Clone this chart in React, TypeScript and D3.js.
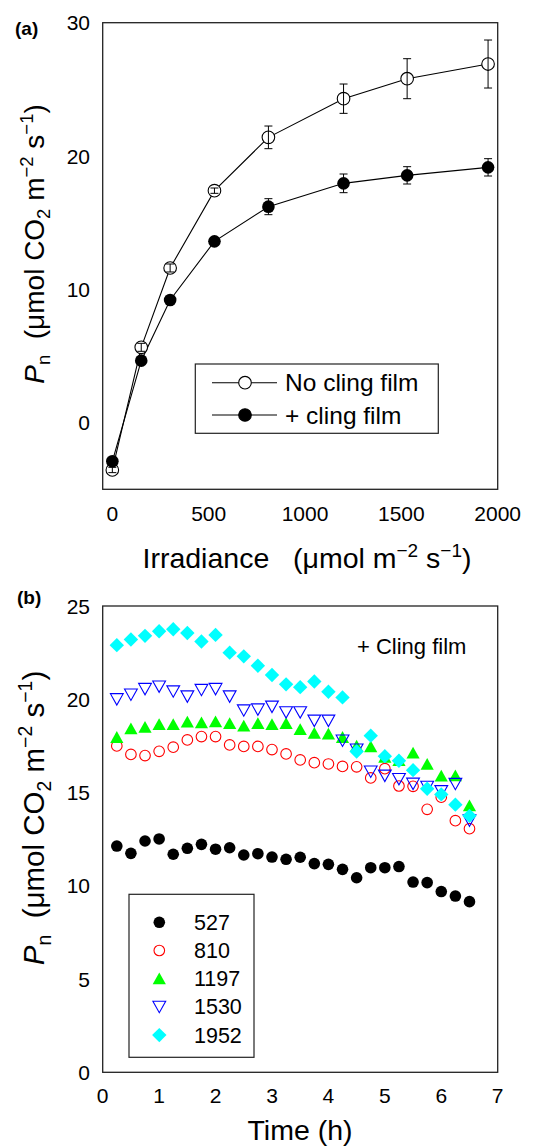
import React from 'react';
import * as d3 from 'd3';

// ---------- Panel (a) data ----------
const irradiance = [0, 150, 300, 530, 810, 1200, 1530, 1950];
const noFilm = [-3.55, 5.65, 11.6, 17.4, 21.4, 24.3, 25.8, 26.9];
const noFilmErr = [0.2, 0.3, 0.3, 0.2, 0.85, 1.1, 1.5, 1.8];
const withFilm = [-2.9, 4.65, 9.2, 13.6, 16.2, 17.95, 18.55, 19.15];
const withFilmErr = [0.2, 0.2, 0.2, 0.2, 0.6, 0.7, 0.65, 0.65];
const aXTicks = [0, 500, 1000, 1500, 2000];
const aYTicks = [0, 10, 20, 30];
const aLegend = ['No cling film', '+ cling film'];

// ---------- Panel (b) data ----------
const time = [0.25, 0.5, 0.75, 1.0, 1.25, 1.5, 1.75, 2.0, 2.25, 2.5, 2.75, 3.0, 3.25,
  3.5, 3.75, 4.0, 4.25, 4.5, 4.75, 5.0, 5.25, 5.5, 5.75, 6.0, 6.25, 6.5];
const s527 = [12.13, 11.74, 12.4, 12.51, 11.69, 12.01, 12.22, 11.96, 12.04, 11.65, 11.72, 11.54, 11.42,
  11.53, 11.19, 11.15, 10.88, 10.43, 10.97, 10.97, 11.03, 10.2, 10.17, 9.69, 9.45, 9.15];
const s810 = [17.5, 17.04, 16.98, 17.21, 17.43, 17.82, 18.0, 18.0, 17.55, 17.47, 17.47, 17.3, 17.07,
  16.75, 16.6, 16.53, 16.4, 16.38, 15.78, 16.28, 15.35, 15.33, 14.1, 14.75, 13.49, 13.06];
const s1197 = [17.96, 18.42, 18.5, 18.65, 18.65, 18.78, 18.74, 18.8, 18.7, 18.57, 18.7, 18.65, 18.7,
  18.38, 18.18, 18.14, 17.96, 17.5, 17.46, 16.9, 16.72, 17.12, 16.52, 15.89, 15.9, 14.3];
const s1530 = [20.0, 20.25, 20.55, 20.68, 20.42, 20.15, 20.5, 20.55, 20.15, 19.4, 19.45, 19.6, 19.3,
  19.3, 18.85, 18.85, 17.78, 17.3, 16.12, 15.9, 15.72, 15.47, 15.3, 15.07, 15.46, 13.5];
const s1952 = [22.9, 23.2, 23.4, 23.65, 23.75, 23.55, 23.1, 23.45, 22.5, 22.3, 21.8, 21.3, 20.8,
  20.65, 20.95, 20.4, 20.1, 17.2, 18.05, 16.95, 16.7, 16.2, 15.2, 14.9, 14.35, 13.75];
const bLabels = ['527', '810', '1197', '1530', '1952'];
const bXTicks = [0, 1, 2, 3, 4, 5, 6, 7];
const bYTicks = [0, 5, 10, 15, 20, 25];

const FONT = "'Liberation Sans', Arial, Helvetica, sans-serif";

type MarkerKind = 'dot' | 'ring' | 'tri' | 'itri' | 'diamond';
const markerPath = (k: MarkerKind): string => {
  if (k === 'tri') return 'M0,-6.2L6.6,5.6L-6.6,5.6Z';
  if (k === 'itri') return 'M-6.4,-5.6L6.4,-5.6L0,5.8Z';
  if (k === 'diamond') return 'M0,-7.2L7.2,0L0,7.2L-7.2,0Z';
  return '';
};

const Marker = ({ kind, x, y, color }: { kind: MarkerKind; x: number; y: number; color: string }) => {
  if (kind === 'dot') return <circle cx={x} cy={y} r={5.8} fill={color} />;
  if (kind === 'ring') return <circle cx={x} cy={y} r={5.3} fill="none" stroke={color} strokeWidth={1.1} />;
  const open = kind === 'itri';
  return (
    <path d={markerPath(kind)} transform={`translate(${x},${y})`}
      fill={open ? 'none' : color} stroke={open ? color : 'none'} strokeWidth={1.1} />
  );
};

export default function App() {
  // Panel (a) scales
  const xA = d3.scaleLinear().domain([-50, 2000]).range([102.7, 497.7]);
  const yA = d3.scaleLinear().domain([-5, 30]).range([489.3, 22.7]);
  // Panel (b) scales
  const xB = d3.scaleLinear().domain([0, 7]).range([102.7, 497.7]);
  const yB = d3.scaleLinear().domain([0, 25]).range([1072.3, 606]);

  const pathNo = d3.line<number>().x((_, i) => xA(irradiance[i])).y((d) => yA(d))(noFilm) || '';
  const pathWith = d3.line<number>().x((_, i) => xA(irradiance[i])).y((d) => yA(d))(withFilm) || '';

  const bSeries: { vals: number[]; kind: MarkerKind; color: string }[] = [
    { vals: s527, kind: 'dot', color: '#000000' },
    { vals: s810, kind: 'ring', color: '#ff0000' },
    { vals: s1197, kind: 'tri', color: '#00ff00' },
    { vals: s1530, kind: 'itri', color: '#0000ff' },
    { vals: s1952, kind: 'diamond', color: '#00ffff' },
  ];

  const errBar = (x: number, v: number, e: number, key: string) => (
    <g key={key} stroke="#000" strokeWidth={1}>
      <line x1={x} x2={x} y1={yA(v - e)} y2={yA(v + e)} />
      <line x1={x - 4} x2={x + 4} y1={yA(v - e)} y2={yA(v - e)} />
      <line x1={x - 4} x2={x + 4} y1={yA(v + e)} y2={yA(v + e)} />
    </g>
  );

  const yTitle = (cx: number, cy: number, fs: number) => {
    const sub = fs * 0.66;
    const dn = fs * 0.22;
    const up = fs * 0.4;
    return (
      <text transform={`translate(${cx},${cy}) rotate(-90)`} textAnchor="middle" fontSize={fs} fontFamily={FONT}>
        <tspan fontStyle="italic">P</tspan>
        <tspan fontSize={sub} dy={dn}>n</tspan>
        <tspan dy={-dn}>{'\u00a0\u00a0(\u03bcmol CO'}</tspan>
        <tspan fontSize={sub} dy={dn}>2</tspan>
        <tspan dy={-dn}>{'\u00a0m'}</tspan>
        <tspan fontSize={sub} dy={-up}>{'\u22122'}</tspan>
        <tspan dy={up}>{'\u00a0s'}</tspan>
        <tspan fontSize={sub} dy={-up}>{'\u22121'}</tspan>
        <tspan dy={up}>)</tspan>
      </text>
    );
  };

  return (
    <svg width={539} height={1148} style={{ position: 'absolute', left: 0, top: 0, background: '#fff' }}
      fontFamily={FONT}>
      <rect x={0} y={0} width={539} height={1148} fill="#fff" />
      {/* ================= Panel (a) ================= */}
      <text x={15} y={35} fontSize={19} fontWeight="bold">(a)</text>
      <rect x={102.7} y={22.7} width={395} height={466.6} fill="none" stroke="#222" strokeWidth={1.3} />
      {aYTicks.map((t) => (
        <text key={'ay' + t} x={90} y={yA(t) + 7.5} textAnchor="end" fontSize={21}>{t}</text>
      ))}
      {aXTicks.map((t) => (
        <text key={'ax' + t} x={xA(t)} y={521} textAnchor="middle" fontSize={21}>{t}</text>
      ))}
      <text x={307} y={568} textAnchor="middle" fontSize={28.5}>
        <tspan>{'Irradiance\u00a0\u00a0\u00a0(\u03bcmol m'}</tspan>
        <tspan fontSize={19} dy={-11.5}>{'\u22122'}</tspan>
        <tspan dy={11.5}>{'\u00a0s'}</tspan>
        <tspan fontSize={19} dy={-11.5}>{'\u22121'}</tspan>
        <tspan dy={11.5}>)</tspan>
      </text>
      {yTitle(44, 244, 28)}

      <path d={pathNo} fill="none" stroke="#000" strokeWidth={1.1} />
      <path d={pathWith} fill="none" stroke="#000" strokeWidth={1.1} />
      {irradiance.map((x, i) => (
        <circle key={'on' + i} cx={xA(x)} cy={yA(noFilm[i])} r={6.3} fill="#fff" stroke="#000" strokeWidth={1.1} />
      ))}
      {irradiance.map((x, i) => errBar(xA(x), noFilm[i], noFilmErr[i], 'en' + i))}
      {irradiance.map((x, i) => errBar(xA(x), withFilm[i], withFilmErr[i], 'ew' + i))}
      {irradiance.map((x, i) => (
        <circle key={'fw' + i} cx={xA(x)} cy={yA(withFilm[i])} r={6.3} fill="#000" />
      ))}

      {/* legend (a) */}
      <rect x={195.3} y={364} width={243} height={69.3} fill="#fff" stroke="#222" strokeWidth={1.2} />
      {aLegend.map((lab, i) => {
        const cy = 382.7 + i * 32.3;
        return (
          <g key={'la' + i}>
            <line x1={212} x2={277} y1={cy} y2={cy} stroke="#000" strokeWidth={1.1} />
            <circle cx={245} cy={cy} r={6.3} fill={i === 0 ? '#fff' : '#000'} stroke="#000" strokeWidth={1.1} />
            <text x={285} y={cy + 8.5} fontSize={24.5}>{lab}</text>
          </g>
        );
      })}

      {/* ================= Panel (b) ================= */}
      <text x={17} y={604} fontSize={19} fontWeight="bold">(b)</text>
      <rect x={102.7} y={606} width={395} height={466.3} fill="none" stroke="#222" strokeWidth={1.3} />
      {bYTicks.map((t) => (
        <text key={'by' + t} x={90} y={yB(t) + 7.5} textAnchor="end" fontSize={21}>{t}</text>
      ))}
      {bXTicks.map((t) => (
        <text key={'bx' + t} x={xB(t)} y={1103} textAnchor="middle" fontSize={21}>{t}</text>
      ))}
      <text x={300} y={1140} textAnchor="middle" fontSize={28.5}>Time (h)</text>
      {yTitle(44, 818, 29.5)}
      <text x={357} y={654} fontSize={22}>+ Cling film</text>

      {bSeries.map((s, si) => (
        <g key={'bs' + si}>
          {s.vals.map((v, i) => (
            <Marker key={i} kind={s.kind} x={xB(time[i])} y={yB(v)} color={s.color} />
          ))}
        </g>
      ))}

      {/* legend (b) */}
      <rect x={129} y={894.3} width={125} height={163} fill="#fff" stroke="#222" strokeWidth={1.2} />
      {bSeries.map((s, i) => {
        const cy = 922.3 + i * 28.2;
        return (
          <g key={'lb' + i}>
            <Marker kind={s.kind} x={159.3} y={cy} color={s.color} />
            <text x={194} y={cy + 7.5} fontSize={21.5}>{bLabels[i]}</text>
          </g>
        );
      })}
    </svg>
  );
}
